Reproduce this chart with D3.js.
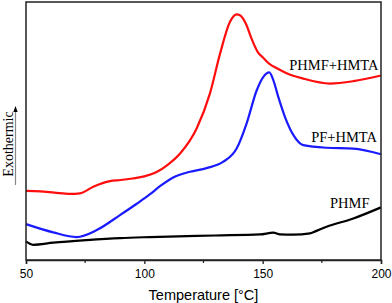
<!DOCTYPE html>
<html lang="en">
<head>
    <meta charset="UTF-8">
    <title>DSC curves</title>
    <script src="https://d3js.org/d3.v7.min.js"></script>
    <style>
        body { margin: 0; background: #fff; }
        .tick text { font-family: "Liberation Sans", Arial, sans-serif; font-size: 12px; fill: #000; }
        .axis-title { font-family: "Liberation Sans", Arial, sans-serif; font-size: 14.5px; fill: #000; }
        .serif { font-family: "Liberation Serif", "Times New Roman", serif; font-size: 14.5px; fill: #000; }
        .curve { fill: none; stroke-width: 2.2px; stroke-linejoin: round; }
    </style>
</head>
<body>
    <svg width="392" height="303"></svg>
    <script>
        // temperature (°C) and heat flow (arbitrary units, exo up)
        const phmfHmtaT = [50, 56, 62, 68.6, 72.8, 78.4, 85.5, 90, 95, 100, 105, 110, 115.1, 122.1, 127.7, 132, 136.2, 139, 140.4, 143.2, 145, 148, 150, 153, 156, 160.1, 167.2, 178.4, 188.3, 200];
        const phmfHmtaV = [26.8, 26.6, 26.1, 25.6, 25.8, 28.4, 30.6, 31.0, 31.6, 32.4, 34.0, 37.0, 41.3, 51.0, 64.5, 80.0, 92.3, 95.2, 94.9, 91.0, 86.5, 80.5, 78.6, 75.9, 74.3, 72.4, 70.3, 68.4, 69.3, 71.5];

        const pfHmtaT = [50, 61.5, 71.4, 79.9, 89.7, 96.8, 102.4, 106.6, 112.2, 119.3, 126.3, 133.4, 139, 143.2, 147.5, 150.3, 152.8, 154.5, 156.6, 159.4, 163, 167.2, 177, 188.3, 200];
        const pfHmtaV = [13.9, 10.7, 8.9, 11.6, 17.4, 21.8, 25.5, 28.6, 32.0, 34.2, 35.6, 38.1, 43.2, 52.9, 65.8, 71.0, 72.7, 69.7, 63.2, 55.5, 48.4, 44.5, 43.5, 43.2, 41.0];

        const phmfT = [50, 53, 61.5, 75.6, 89.7, 102.4, 130, 148.9, 154.5, 157.3, 163, 170, 172, 177, 188.3, 200];
        const phmfV = [7.2, 5.9, 6.7, 7.7, 8.5, 8.9, 9.5, 9.9, 10.6, 9.9, 9.8, 10.3, 11.0, 12.9, 16.1, 20.4];

        const majorTicks = [50, 100, 150, 200];
        const minorTicks = [75, 125, 175];

        const series = [
            { name: "PHMF+HMTA", t: phmfHmtaT, v: phmfHmtaV, color: "#ff0d0d", lx: 378.5, ly: 69.5 },
            { name: "PF+HMTA", t: pfHmtaT, v: pfHmtaV, color: "#1a1aff", lx: 377, ly: 141.7 },
            { name: "PHMF", t: phmfT, v: phmfV, color: "#000000", lx: 369.5, ly: 208.3 }
        ];

        const svg = d3.select("svg");
        const margin = { top: 2, right: 11, bottom: 43, left: 26 };
        const width = 392 - margin.left - margin.right;
        const height = 303 - margin.top - margin.bottom;

        const x = d3.scaleLinear().domain([50, 200]).range([margin.left, margin.left + width]);
        const y = d3.scaleLinear().domain([0, 100]).range([margin.top + height, margin.top]);

        const line = d3.line()
            .x(d => x(d[0]))
            .y(d => y(d[1]))
            .curve(d3.curveMonotoneX);

        // curves
        series.forEach(s => {
            svg.append("path")
                .datum(s.t.map((t, i) => [t, s.v[i]]))
                .attr("class", "curve")
                .attr("stroke", s.color)
                .attr("d", line);

            svg.append("text")
                .attr("class", "serif")
                .attr("x", s.lx)
                .attr("y", s.ly)
                .attr("text-anchor", "end")
                .text(s.name);
        });

        // frame
        svg.append("rect")
            .attr("x", margin.left)
            .attr("y", margin.top)
            .attr("width", width)
            .attr("height", height)
            .attr("fill", "none")
            .attr("stroke", "#222")
            .attr("stroke-width", 1.5);

        // bottom axis
        const xAxis = svg.append("g")
            .attr("transform", `translate(0,${margin.top + height})`)
            .call(d3.axisBottom(x).tickValues(majorTicks).tickSize(4).tickPadding(5).tickFormat(d3.format("d")));
        xAxis.select(".domain").attr("stroke", "#222").attr("stroke-width", 1.5);
        xAxis.selectAll(".tick line").attr("stroke", "#222").attr("stroke-width", 1.3);

        svg.append("g")
            .selectAll("line")
            .data(minorTicks)
            .join("line")
            .attr("x1", d => x(d))
            .attr("x2", d => x(d))
            .attr("y1", margin.top + height)
            .attr("y2", margin.top + height + 3)
            .attr("stroke", "#222")
            .attr("stroke-width", 1.2);

        svg.append("text")
            .attr("class", "axis-title")
            .attr("x", margin.left + width / 2)
            .attr("y", 299.5)
            .attr("text-anchor", "middle")
            .text("Temperature [°C]");

        // y label with arrow
        svg.append("text")
            .attr("class", "serif")
            .attr("transform", "translate(12.5,144) rotate(-90)")
            .attr("text-anchor", "middle")
            .style("font-size", "14px")
            .text("Exothermic");

        svg.append("line")
            .attr("x1", 15.5).attr("x2", 15.5)
            .attr("y1", 185).attr("y2", 111)
            .attr("stroke", "#888")
            .attr("stroke-width", 1.2);
        svg.append("path")
            .attr("d", "M15.5,106 L13.3,112 L17.7,112 Z")
            .attr("fill", "#000");
    </script>
</body>
</html>
